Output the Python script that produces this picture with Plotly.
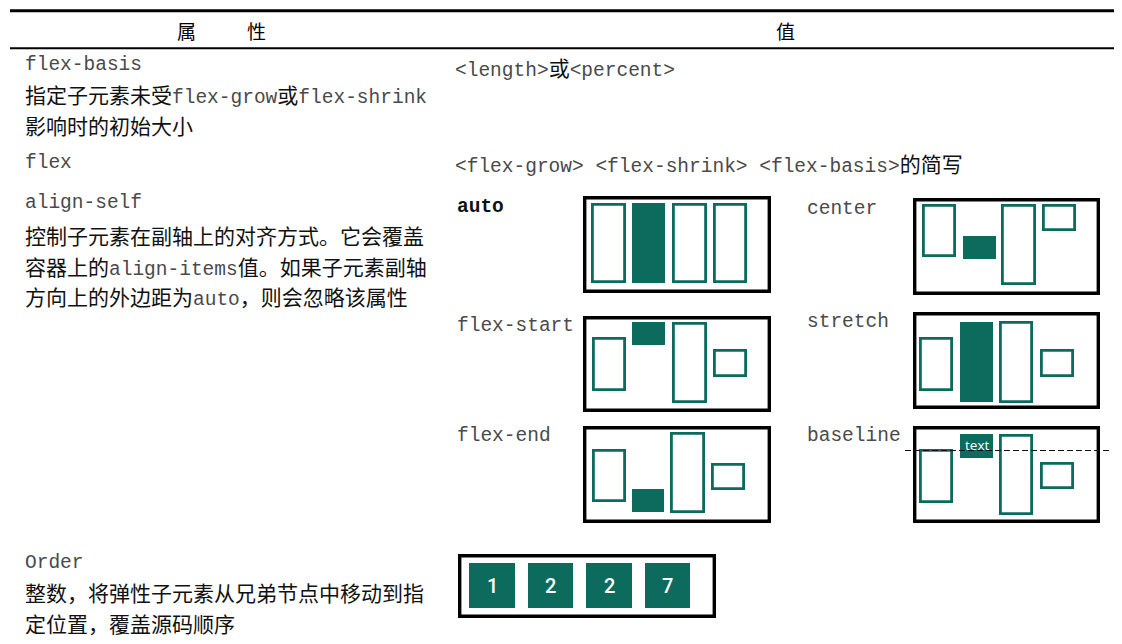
import re
import plotly.graph_objects as go

W, H = 1122, 644
PAGE_MARGIN = 8  # default body margin of the written html page
TEAL = "#0d6b5e"

# ---------------- content ----------------
header_texts = ["属", "性", "值"]
header_x = [186, 256, 785]

left_texts = [
    "flex-basis",
    "指定子元素未受flex-grow或flex-shrink",
    "影响时的初始大小",
    "flex",
    "align-self",
    "控制子元素在副轴上的对齐方式。它会覆盖",
    "容器上的align-items值。如果子元素副轴",
    "方向上的外边距为auto，则会忽略该属性",
    "Order",
    "整数，将弹性子元素从兄弟节点中移动到指",
    "定位置，覆盖源码顺序",
]
left_y = [65, 97, 128, 163, 203, 238, 269, 299, 563, 595, 626]

right_texts = ["<length>或<percent>", "<flex-grow> <flex-shrink> <flex-basis>的简写"]
right_y = [70, 166]

panel_names = ["auto", "center", "flex-start", "stretch", "flex-end", "baseline"]
panel_label_xy = [(455, 207), (805, 209), (455, 326), (805, 322), (455, 436), (805, 436)]
panel_frames = [
    (583, 196, 771, 293),
    (913, 198, 1100, 295),
    (583, 316, 771, 412),
    (913, 312, 1100, 409),
    (583, 426, 771, 523),
    (913, 426, 1100, 523),
]
# items per panel: (x0, y0, x1, y1); the second item is the highlighted one
panel_items = [
    [(591, 203, 626, 283), (632, 203, 665, 283), (672, 203, 707, 283), (713, 203, 747, 283)],
    [(922, 204, 956, 257), (963, 236, 996, 259), (1001, 204, 1036, 285), (1042, 204, 1076, 231)],
    [(592, 337, 626, 391), (632, 322, 665, 345), (672, 322, 707, 403), (713, 349, 747, 377)],
    [(919, 337, 953, 391), (960, 322, 993, 402), (999, 321, 1033, 403), (1040, 349, 1074, 377)],
    [(592, 449, 626, 502), (632, 489, 664, 512), (670, 432, 705, 513), (711, 463, 745, 490)],
    [(919, 449, 953, 503), (960, 434, 993, 458), (999, 434, 1033, 515), (1040, 462, 1074, 489)],
]
highlight_index = 1
baseline_line = (905, 1112, 450.5)

order_values = ["1", "2", "2", "7"]
order_frame = (458, 554, 716, 618)
order_items = [(469, 563, 515, 608), (528, 563, 573, 608), (586, 563, 632, 608), (645, 563, 690, 608)]

# ---------------- helpers ----------------
MONO = "Liberation Mono, Noto Sans CJK SC, monospace"
CJK_RE = re.compile(r"([\u3000-\u303f\u4e00-\u9fff\uff00-\uffef]+)")


def esc(s):
    return s.replace("&", "&amp;").replace("<", "&lt;").replace(">", "&gt;")


def rich(s):
    parts = CJK_RE.split(s)
    out = []
    for i, p in enumerate(parts):
        if not p:
            continue
        if i % 2 == 1:
            out.append('<span style="font-size:21px;color:#111111">' + esc(p) + "</span>")
        else:
            out.append(esc(p))
    return "".join(out)


fig = go.Figure()
fig.add_trace(go.Scatter(x=[PAGE_MARGIN, W], y=[PAGE_MARGIN, H], mode="markers",
                         marker=dict(opacity=0), hoverinfo="skip", showlegend=False))

shapes = []
annotations = []
MONO_COLOR = "#4a4a4a"

# header rules
shapes.append(dict(type="line", x0=10, x1=W, y0=10.7, y1=10.7, line=dict(color="black", width=3)))
shapes.append(dict(type="line", x0=10, x1=W, y0=48.3, y1=48.3, line=dict(color="black", width=2)))
for t, x in zip(header_texts, header_x):
    annotations.append(dict(x=x, y=30, text=t, showarrow=False, xanchor="center", yanchor="middle",
                            font=dict(family="Noto Sans CJK SC", size=19, color="#000000")))

for t, y in zip(left_texts, left_y):
    annotations.append(dict(x=23, y=y, text=rich(t), showarrow=False, xanchor="left", yanchor="middle",
                            font=dict(family=MONO, size=19.5, color=MONO_COLOR)))
for t, y in zip(right_texts, right_y):
    annotations.append(dict(x=453, y=y, text=rich(t), showarrow=False, xanchor="left", yanchor="middle",
                            font=dict(family=MONO, size=19.5, color=MONO_COLOR)))

for name, (lx, ly), frame, items in zip(panel_names, panel_label_xy, panel_frames, panel_items):
    txt = "<b>" + name + "</b>" if name == "auto" else name
    annotations.append(dict(x=lx, y=ly, text=txt, showarrow=False, xanchor="left", yanchor="middle",
                            font=dict(family=MONO, size=19.5,
                                      color="#111111" if name == "auto" else MONO_COLOR)))
    x0, y0, x1, y1 = frame
    shapes.append(dict(type="rect", x0=x0 + 1.7, x1=x1 - 1.7, y0=y0 + 1.7, y1=y1 - 1.7,
                       line=dict(color="black", width=3.4), fillcolor="white"))
    for k, (a0, b0, a1, b1) in enumerate(items):
        if k == highlight_index:
            shapes.append(dict(type="rect", x0=a0, x1=a1, y0=b0, y1=b1,
                               line=dict(width=0), fillcolor=TEAL))
        else:
            shapes.append(dict(type="rect", x0=a0 + 1.4, x1=a1 - 1.4, y0=b0 + 1.4, y1=b1 - 1.4,
                               line=dict(color=TEAL, width=2.8), fillcolor="rgba(0,0,0,0)"))
    if name == "baseline":
        hx = items[highlight_index]
        annotations.append(dict(x=(hx[0] + hx[2]) / 2, y=(hx[1] + hx[3]) / 2 - 1, text="text",
                                showarrow=False, xanchor="center", yanchor="middle",
                                font=dict(family="Open Sans, sans-serif", size=13.5, color="white")))
        bx0, bx1, by = baseline_line
        shapes.append(dict(type="line", x0=bx0, x1=bx1, y0=by, y1=by, layer="above",
                           line=dict(color="#111111", width=1, dash="6px,3px")))

# order panel
x0, y0, x1, y1 = order_frame
shapes.append(dict(type="rect", x0=x0 + 1.7, x1=x1 - 1.7, y0=y0 + 1.7, y1=y1 - 1.7,
                   line=dict(color="black", width=3.4), fillcolor="white"))
for v, (a0, b0, a1, b1) in zip(order_values, order_items):
    shapes.append(dict(type="rect", x0=a0, x1=a1, y0=b0, y1=b1, line=dict(width=0), fillcolor=TEAL))
    annotations.append(dict(x=(a0 + a1) / 2, y=(b0 + b1) / 2, text=v, showarrow=False,
                            xanchor="center", yanchor="middle",
                            font=dict(family="Roboto, sans-serif", size=20, color="white", weight=500)))

# the page places the plot 8px from its top-left corner; shift the axis ranges so
# that a coordinate read off the reference lands on the same window pixel
fig.update_layout(
    width=W - PAGE_MARGIN, height=H - PAGE_MARGIN, autosize=False,
    margin=dict(l=0, r=0, t=0, b=0),
    paper_bgcolor="white", plot_bgcolor="white",
    xaxis=dict(range=[PAGE_MARGIN, W], visible=False, fixedrange=True),
    yaxis=dict(range=[H, PAGE_MARGIN], visible=False, fixedrange=True),
    shapes=shapes, annotations=annotations, showlegend=False,
)

fig.write_html("out.html", config={"displayModeBar": False})
